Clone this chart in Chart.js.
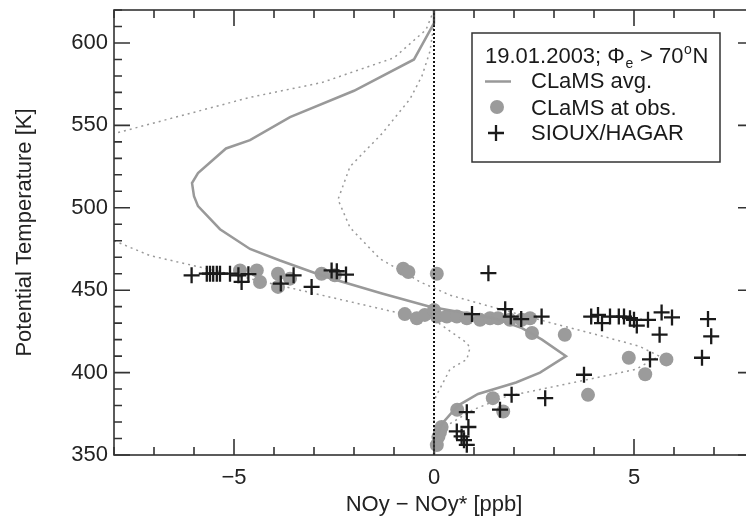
<!DOCTYPE html>
<html>
<head>
<meta charset="utf-8">
<script src="https://cdn.jsdelivr.net/npm/chart.js@4.4.1/dist/chart.umd.min.js"></script>
<style>
  body { margin: 0; background: #fff; }
  #wrap { width: 746px; height: 521px; overflow: hidden; }
</style>
</head>
<body>
<div id="wrap"><canvas id="chart" width="754" height="521" style="width:754px;height:521px"></canvas></div>
<script>
// CLaMS average profile (theta in K, NOy - NOy* in ppb)
const avgTheta = [620, 612, 590, 571, 555, 541, 536, 521, 515, 507, 501, 487, 475, 468, 458, 448, 440, 433, 427, 420, 410, 400, 394, 387, 380, 369, 359, 350];
const avgDiff  = [0, 0, -0.5, -2.0, -3.6, -4.6, -5.2, -5.9, -6.05, -6.0, -5.9, -5.35, -4.6, -3.85, -2.7, -1.3, -0.1, 1.5, 2.2, 2.7, 3.3, 2.65, 2.05, 1.1, 0.6, 0.2, 0.03, 0];

// dotted envelope, left branch (leaves the plot between 545 and 480 K)
const lowTheta = [620, 608, 591, 576, 567, 545, null, 480, 471, 450, 443, 436, 432, 418, 415, 408, 402, 388, 383, 350];
const lowDiff  = [0, -0.2, -1.0, -2.8, -4.6, -8, null, -8, -7.1, -3.35, -2.1, -0.85, 0, 0.82, 0.9, 0.82, 0.4, 0.1, 0, 0];

// dotted envelope, right branch
const highTheta = [620, 612, 595, 580, 566, 545, 525, 505, 488, 469, 458, 455, 447, 439, 431, 423, 416, 410, 402, 392, 385.5, 377.5, 369, 360, 350];
const highDiff  = [0, 0, -0.1, -0.3, -0.6, -1.3, -2.1, -2.4, -2.1, -1.35, -0.55, -0.35, 0.4, 1.57, 2.8, 4.07, 5.13, 5.63, 5.05, 3.1, 1.8, 0.98, 0.4, 0.1, 0];

// CLaMS at observation points
const modelTheta = [462, 462, 455, 460, 452, 457, 460, 459, 463, 461, 460,
  435.5, 433, 435, 438, 434, 434, 434, 433, 432, 433, 433, 432, 432, 433, 424, 423,
  409, 408, 399, 386.5, 384.5, 376.4, 377.5, 367, 364, 361, 356];
const modelDiff  = [-4.85, -4.43, -4.35, -3.9, -3.9, -3.6, -2.81, -2.48, -0.77, -0.64, 0.07,
  -0.73, -0.43, -0.23, 0, 0.07, 0.32, 0.57, 0.82, 1.15, 1.4, 1.6, 1.9, 2.19, 2.4, 2.45, 3.27,
  4.87, 5.81, 5.28, 3.85, 1.47, 1.73, 0.58, 0.19, 0.15, 0.11, 0.07];

// SIOUX/HAGAR observations
const obsTheta = [459, 460, 460, 460, 460, 460, 460, 459, 455, 459.7, 454, 459, 452, 462, 461.5, 459.5, 460.3,
  435.5, 438.5, 434, 432.5, 434, 434, 435, 430, 434, 434, 434, 433, 432, 428.5, 432, 436.5, 433.5, 423, 432.5, 422,
  408, 409, 398.7, 386.5, 384.5, 376, 377.5, 367, 364.3, 361.3, 359, 356.2];
const obsDiff  = [-6.06, -5.68, -5.6, -5.52, -5.43, -5.35, -5.1, -4.89, -4.81, -4.64, -3.83, -3.51, -3.06, -2.56, -2.43, -2.2, 1.36,
  0.95, 1.78, 1.92, 2.18, 2.69, 3.93, 4.1, 4.2, 4.4, 4.62, 4.75, 4.9, 5.0, 5.07, 5.35, 5.69, 5.95, 5.64, 6.85, 6.93,
  5.4, 6.7, 3.75, 1.94, 2.78, 0.82, 1.65, 0.86, 0.57, 0.69, 0.75, 0.82];

const xRange = [-8, 8];
const yRange = [350, 620];
const xLabels = [-5, 0, 5];
const yLabels = [350, 400, 450, 500, 550, 600];

const FONT = "'Liberation Sans', Arial, Helvetica, sans-serif";

function pts(xs, ys) {
  return xs.map((v, i) => ({ x: v, y: ys[i] }));
}

// inward ticks on all four sides plus the frame
const frameTicks = {
  id: 'frameTicks',
  afterDatasetsDraw(chart) {
    const { ctx, chartArea: a, scales: { x, y } } = chart;
    ctx.save();
    ctx.strokeStyle = '#333';
    ctx.lineWidth = 1.6;
    ctx.strokeRect(a.left, a.top, a.right - a.left, a.bottom - a.top);
    ctx.beginPath();
    for (let v = xRange[0]; v <= xRange[1]; v += 1) {
      const p = x.getPixelForValue(v);
      const len = v % 5 === 0 ? 16 : 8;
      ctx.moveTo(p, a.bottom); ctx.lineTo(p, a.bottom - len);
      ctx.moveTo(p, a.top); ctx.lineTo(p, a.top + len);
    }
    for (let v = yRange[0]; v <= yRange[1]; v += 10) {
      const p = y.getPixelForValue(v);
      const len = v % 50 === 0 ? 16 : 8;
      ctx.moveTo(a.left, p); ctx.lineTo(a.left + len, p);
      ctx.moveTo(a.right, p); ctx.lineTo(a.right - len, p);
    }
    ctx.stroke();
    ctx.restore();
  }
};

// legend box with the date / latitude header
const legendBox = {
  id: 'legendBox',
  afterDraw(chart) {
    const ctx = chart.ctx;
    ctx.save();
    ctx.fillStyle = '#fff';
    ctx.fillRect(472, 33, 248, 129);
    ctx.strokeStyle = '#333';
    ctx.lineWidth = 1.5;
    ctx.strokeRect(472, 33, 248, 129);

    ctx.fillStyle = '#1a1a1a';
    ctx.textBaseline = 'alphabetic';
    let cx = 485;
    const big = '22px ' + FONT, small = '14px ' + FONT;
    const parts = [
      ['19.01.2003; Φ', big, 0],
      ['e', small, 5],
      [' > 70', big, 0],
      ['o', small, -9],
      ['N', big, 0]
    ];
    parts.forEach(([t, f, dy]) => {
      ctx.font = f;
      ctx.fillText(t, cx, 63 + dy);
      cx += ctx.measureText(t).width + 0.6;
    });

    ctx.font = big;
    ctx.fillText('CLaMS avg.', 531, 88);
    ctx.fillText('CLaMS at obs.', 531, 115);
    ctx.fillText('SIOUX/HAGAR', 531, 140);

    ctx.strokeStyle = '#999';
    ctx.lineWidth = 2.5;
    ctx.beginPath(); ctx.moveTo(485, 81.5); ctx.lineTo(511, 81.5); ctx.stroke();

    ctx.fillStyle = '#9b9b9b';
    ctx.beginPath(); ctx.arc(497, 107, 7, 0, Math.PI * 2); ctx.fill();

    ctx.strokeStyle = '#1a1a1a';
    ctx.lineWidth = 2.3;
    ctx.beginPath();
    ctx.moveTo(488, 133); ctx.lineTo(504, 133);
    ctx.moveTo(496, 125); ctx.lineTo(496, 141);
    ctx.stroke();
    ctx.restore();
  }
};

new Chart(document.getElementById('chart'), {
  type: 'scatter',
  data: {
    datasets: [
      {
        label: 'SIOUX/HAGAR',
        data: pts(obsDiff, obsTheta),
        pointStyle: 'cross',
        pointRadius: 8,
        borderColor: '#1a1a1a',
        borderWidth: 2.3
      },
      {
        label: 'zero',
        data: [{ x: 0, y: yRange[0] }, { x: 0, y: yRange[1] }],
        showLine: true,
        pointRadius: 0,
        borderColor: '#111',
        borderWidth: 2,
        borderDash: [2, 2]
      },
      {
        label: 'CLaMS avg.',
        data: pts(avgDiff, avgTheta),
        showLine: true,
        pointRadius: 0,
        borderColor: '#999',
        borderWidth: 2.5
      },
      {
        label: 'CLaMS at obs.',
        data: pts(modelDiff, modelTheta),
        pointStyle: 'circle',
        pointRadius: 7,
        backgroundColor: '#9b9b9b',
        borderWidth: 0
      },
      {
        label: 'low',
        data: pts(lowDiff, lowTheta),
        showLine: true,
        spanGaps: false,
        pointRadius: 0,
        borderColor: '#999',
        borderWidth: 1.5,
        borderDash: [2, 4]
      },
      {
        label: 'high',
        data: pts(highDiff, highTheta),
        showLine: true,
        pointRadius: 0,
        borderColor: '#999',
        borderWidth: 1.5,
        borderDash: [2, 4]
      }
    ]
  },
  options: {
    responsive: false,
    animation: false,
    devicePixelRatio: 1,
    layout: { autoPadding: false, padding: { top: 10, left: 0, right: 0, bottom: 0 } },
    plugins: { legend: { display: false }, tooltip: { enabled: false } },
    scales: {
      x: {
        type: 'linear',
        min: xRange[0],
        max: xRange[1],
        grid: { display: false, drawTicks: false },
        border: { display: false },
        afterBuildTicks: s => { s.ticks = xLabels.map(v => ({ value: v })); },
        afterFit: s => { s.height = 66; s.paddingLeft = 0; s.paddingRight = 0; },
        ticks: {
          padding: 10,
          color: '#222',
          font: { family: FONT, size: 22 },
          callback: v => String(v).replace('-', '\u2212')
        },
        title: {
          display: true,
          text: 'NOy \u2212 NOy* [ppb]',
          color: '#222',
          font: { family: FONT, size: 22 },
          padding: { top: 0, bottom: 3 }
        }
      },
      y: {
        type: 'linear',
        min: yRange[0],
        max: yRange[1],
        grid: { display: false, drawTicks: false },
        border: { display: false },
        afterBuildTicks: s => { s.ticks = yLabels.map(v => ({ value: v })); },
        afterFit: s => { s.width = 114; s.paddingTop = 0; s.paddingBottom = 0; },
        ticks: {
          padding: 6,
          color: '#222',
          font: { family: FONT, size: 22 }
        },
        title: {
          display: true,
          text: 'Potential Temperature [K]',
          color: '#222',
          font: { family: FONT, size: 22 },
          padding: { top: 12, bottom: 0 }
        }
      }
    }
  },
  plugins: [frameTicks, legendBox]
});
</script>
</body>
</html>
